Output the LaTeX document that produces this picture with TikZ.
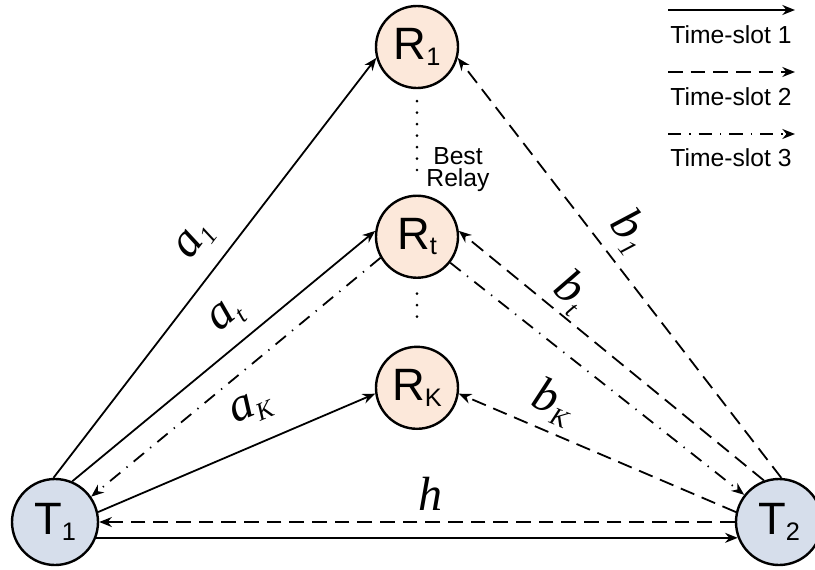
\documentclass[tikz,border=0pt]{standalone}
\usepackage{fontspec}
\setmainfont{Liberation Sans}
\newfontfamily\lblfont{Liberation Serif}
\usetikzlibrary{positioning,arrows.meta}

\definecolor{relayfill}{RGB}{252,232,218}
\definecolor{termfill}{RGB}{214,222,235}

% subscripts inside the circles and on the channel labels
\newcommand{\nsub}[1]{\raisebox{-4pt}{\fontsize{19}{19}\selectfont #1}}
\newcommand{\lsub}[1]{\raisebox{-6pt}{\fontsize{19}{19}\selectfont\itshape #1}}

\begin{document}
\begin{tikzpicture}[
        x=0.75pt, y=-0.75pt,
        >={Stealth[length=9.5pt, width=7.5pt]},
        relay/.style={circle, draw=black, line width=1.8pt, fill=relayfill, minimum size=61.5pt, inner sep=0pt, font=\fontsize{34}{34}\selectfont},
        term/.style={circle, draw=black, line width=1.8pt, fill=termfill, minimum size=64.5pt, inner sep=0pt, font=\fontsize{34}{34}\selectfont},
        lbl/.style={font=\lblfont\itshape\fontsize{36}{36}\selectfont, inner sep=0pt},
        legtext/.style={font=\fontsize{18.5}{18.5}\selectfont, inner sep=0pt, align=center},
        slot1/.style={->, line width=1.35pt},
        slot2/.style={->, line width=1.35pt, dash pattern=on 11pt off 6pt},
        slot3/.style={->, line width=1.35pt, dash pattern=on 10pt off 6pt on 1pt off 6pt},
        dotline/.style={line width=2.2pt, line cap=round, dash pattern=on 0pt off 8.6pt}
    ]
    \useasboundingbox (0,0) rectangle (815,569);

    \node[relay] (r1) at (417,47) {R\nsub{1}};
    \node[relay, below=79pt of r1] (rt) {R\nsub{t}};
    \node[relay, below=50pt of rt] (rk) {R\nsub{K}};

    \node[term] (t1) at (55,522) {T\nsub{1}};
    \node[term] (t2) at (779,522) {T\nsub{2}};

    \node[legtext] (best) at (458,170) {Best\\[-2pt]Relay};

    \draw[dotline, shorten <=9pt, shorten >=18pt] (r1.south) -- (rt.north);
    \draw[dotline, shorten <=11pt, shorten >=14pt] (rt.south) -- (rk.north);

    % time-slot 1
    \draw[slot1] (t1.92) -- (r1.195);
    \draw[slot1] (t1.67) -- (rt.172);
    \draw[slot1] (t1.13) -- (rk.188);
    \draw[slot1] (t1.-21) -- (t2.201);
    % time-slot 2
    \draw[slot2] (t2.87) -- (r1.-15);
    \draw[slot2] (t2.110) -- (rt.8);
    \draw[slot2] (t2.167) -- (rk.-8);
    \draw[slot2] (t2.180) -- (t1.0);
    % time-slot 3
    \draw[slot3] (rt.210) -- (t1.35);
    \draw[slot3] (rt.-38) -- (t2.142);

    \node[lbl, rotate=53] (la1) at (196,241) {a\lsub{1}};
    \node[lbl, rotate=40] (lat) at (227,317) {a\lsub{t}};
    \node[lbl, rotate=23] (lak) at (251,409) {a\lsub{K}};
    \node[lbl] (lh) at (430,494) {h};
    \node[lbl, rotate=-52] (lb1) at (630,231) {b\lsub{1}};
    \node[lbl, rotate=-39] (lbt) at (571,292) {b\lsub{t}};
    \node[lbl, rotate=-23] (lbk) at (553,402) {b\lsub{K}};

    % legend
    \coordinate (k1a) at (668,10);
    \coordinate (k1b) at (795,10);
    \coordinate (k2a) at (668,72);
    \coordinate (k2b) at (795,72);
    \coordinate (k3a) at (668,134);
    \coordinate (k3b) at (795,134);
    \draw[slot1] (k1a) -- (k1b);
    \draw[slot2] (k2a) -- (k2b);
    \draw[slot3] (k3a) -- (k3b);
    \node[legtext] (key1) at (731,35) {Time-slot 1};
    \node[legtext] (key2) at (731,97) {Time-slot 2};
    \node[legtext] (key3) at (731,158) {Time-slot 3};
\end{tikzpicture}
\end{document}
